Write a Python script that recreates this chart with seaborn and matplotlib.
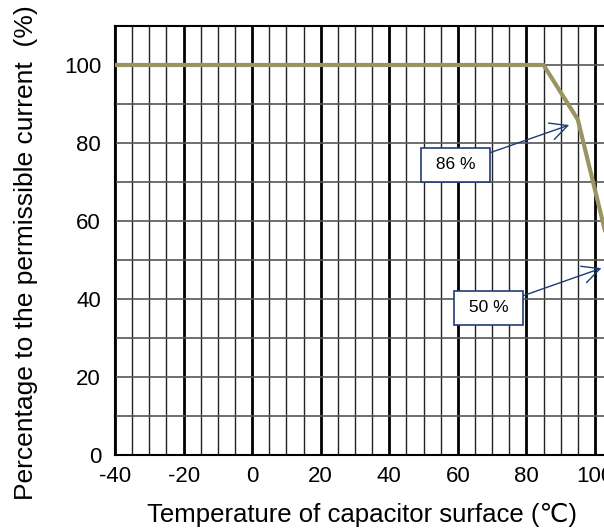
import pandas as pd
import matplotlib.pyplot as plt
import seaborn as sns
import numpy as np

# Derating curve data
temperature = [-40, 85, 95, 105]
percentage = [100, 100, 86, 50]

x_ticks = [-40, -20, 0, 20, 40, 60, 80, 100]
y_ticks = [0, 20, 40, 60, 80, 100]

# annotation labels
labels = [" 86 % ", " 50 % "]
label_pos = [(59.3, 74.4), (68.9, 37.7)]
arrow_tip = [(92.5, 84.6), (101.9, 47.9)]

df = pd.DataFrame({"Temperature": temperature, "Percentage": percentage})

sns.set_style("white")
plt.rcParams["font.family"] = ["Liberation Sans", "DejaVu Sans"]
plt.rcParams["axes.unicode_minus"] = False
plt.rcParams["text.color"] = "black"
plt.rcParams["axes.labelcolor"] = "black"
plt.rcParams["xtick.color"] = "black"
plt.rcParams["ytick.color"] = "black"

fig = plt.figure(figsize=(6.04, 5.28), dpi=100)
ax = fig.add_axes([0.1904, 0.1383, 0.823, 0.8125])

# grid
for xv in np.arange(-40, 106, 5):
    if xv % 20 == 0:
        ax.axvline(xv, color="black", lw=2.0, zorder=1)
    else:
        ax.axvline(xv, color="#222222", lw=1.0, zorder=1)
for yv in np.arange(10, 111, 10):
    ax.axhline(yv, color="#555555", lw=1.2, zorder=1)

sns.lineplot(data=df, x="Temperature", y="Percentage", ax=ax,
             color="#9A9462", lw=3, zorder=3)

for text, (tx, ty), (ax_, ay) in zip(labels, label_pos, arrow_tip):
    ax.annotate(text, xy=(ax_, ay), xytext=(tx, ty), ha="center", va="center",
                fontsize=12.5, color="black", zorder=5,
                bbox=dict(boxstyle="square,pad=0.55", fc="white", ec="#1F3C78", lw=1.2),
                arrowprops=dict(arrowstyle="->,head_length=1.0,head_width=0.5",
                                color="#1F3C78", lw=1.0, shrinkA=0, shrinkB=0))

ax.set_xlim(-40, 105)
ax.set_ylim(0, 110)
ax.set_xticks(x_ticks)
ax.set_yticks(y_ticks)
ax.tick_params(axis="y", length=0, labelsize=16, pad=10, labelcolor="black")
ax.tick_params(axis="x", length=0, labelsize=16, pad=8, labelcolor="black")
for s in ax.spines.values():
    s.set_color("black")
    s.set_linewidth(1.5)

ax.set_xlabel("Temperature of capacitor surface (℃)", fontsize=18.5, color="black")
ax.set_ylabel("Percentage to the permissible current  (%)", fontsize=19, color="black")
ax.xaxis.set_label_coords(0.497, -0.112)
ax.yaxis.set_label_coords(-0.155, 0.471)

fig.savefig("out.png", dpi=100)
